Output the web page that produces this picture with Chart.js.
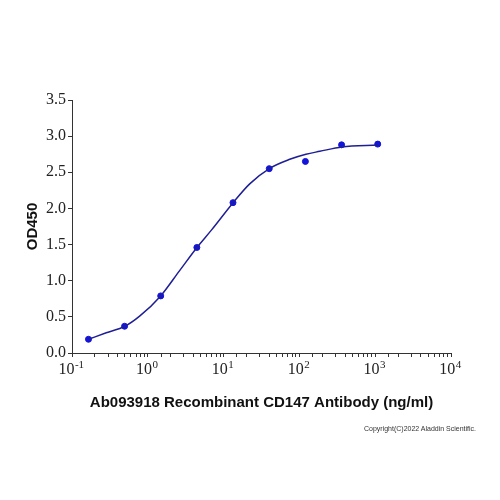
<!DOCTYPE html>
<html>
<head>
<meta charset="utf-8">
<script src="https://cdn.jsdelivr.net/npm/chart.js@4/dist/chart.umd.min.js"></script>
<style>
  body { margin: 0; background: #fff; }
  #wrap { position: relative; width: 500px; height: 500px; }
  #note { position: absolute; left: 364px; top: 425px; font: 7px "Liberation Sans", Arial, sans-serif; color: #333; white-space: nowrap; }
</style>
</head>
<body>
<div id="wrap">
  <canvas id="myChart" width="500" height="500"></canvas>
  <div id="note">Copyright(C)2022 Aladdin Scientific.</div>
</div>
<script>
// measured points (3-fold dilutions, ng/ml)
var conc = [0.165, 0.494, 1.48, 4.44, 13.3, 40, 120, 360, 1080];
var od = [0.19, 0.37, 0.79, 1.46, 2.08, 2.55, 2.65, 2.88, 2.89];

// fitted curve
var curveX = [0.165, 0.283, 0.498, 0.78, 1.48, 2.63, 4.45, 6.9, 13.6, 22.1, 40.6, 74.6, 122, 186, 363, 1087];
var curveY = [0.19, 0.28, 0.37, 0.51, 0.79, 1.14, 1.46, 1.70, 2.09, 2.34, 2.555, 2.68, 2.75, 2.79, 2.85, 2.877];

// x tick labels, powers of ten
var exps = [-1, 0, 1, 2, 3, 4];

var serif = '"Liberation Serif", "Times New Roman", serif';

// draws 10 with a raised exponent under each decade tick
var powerLabels = {
  id: 'powerLabels',
  afterDraw: function (chart) {
    var sx = chart.scales.x;
    var c = chart.ctx;
    c.save();
    c.fillStyle = '#222';
    c.textBaseline = 'alphabetic';
    c.textAlign = 'left';
    exps.forEach(function (e) {
      var px = sx.getPixelForValue(Math.pow(10, e));
      var base = '10', sup = e < 0 ? '-' + (-e) : String(e);
      c.font = '16px ' + serif;
      var w1 = c.measureText(base).width;
      c.font = '11px ' + serif;
      var w2 = c.measureText(sup).width;
      var x0 = px - (w1 + w2) / 2 - 1;
      c.font = '16px ' + serif;
      c.fillText(base, x0, sx.top + 21);
      c.font = '11px ' + serif;
      c.fillText(sup, x0 + w1 + 0.5, sx.top + 15);
    });
    c.restore();
  }
};

var ctx = document.getElementById("myChart");
var myChart = new Chart(ctx, {
  type: 'scatter',
  data: {
    datasets: [
      {
        data: curveX.map(function (x, i) { return {x: x, y: curveY[i]}; }),
        showLine: true,
        borderColor: "#1f1f95",
        borderWidth: 1.5,
        pointRadius: 0,
        cubicInterpolationMode: 'monotone',
        fill: false
      },
      {
        data: conc.map(function (x, i) { return {x: x, y: od[i]}; }),
        backgroundColor: "#1414d8",
        borderColor: "#1414d8",
        pointRadius: 3
      }
    ]
  },
  options: {
    responsive: false,
    animation: false,
    layout: { padding: { top: 100, right: 49, left: 24, bottom: 88 } },
    plugins: { legend: { display: false }, tooltip: { enabled: false } },
    scales: {
      x: {
        type: 'logarithmic',
        min: 0.1,
        max: 10000,
        afterFit: function (s) { s.height = 59; },
        border: { display: true, color: '#333', width: 1 },
        grid: { drawOnChartArea: false, tickLength: 4, color: '#333' },
        ticks: {
          autoSkip: false,
          maxRotation: 0,
          callback: function () { return ''; }
        },
        title: {
          display: true,
          text: 'Ab093918 Recombinant CD147 Antibody (ng/ml)',
          color: '#111',
          padding: 0,
          font: { family: '"Liberation Sans", Arial, sans-serif', size: 15, weight: 'bold', lineHeight: 1.2 }
        }
      },
      y: {
        min: 0,
        max: 3.5,
        afterFit: function (s) { s.width = 48; },
        border: { display: true, color: '#333', width: 1 },
        grid: { drawOnChartArea: false, tickLength: 4, color: '#333' },
        ticks: {
          stepSize: 0.5,
          padding: 2,
          color: '#222',
          font: { family: serif, size: 16 },
          callback: function (v) { return v.toFixed(1); }
        },
        title: {
          display: true,
          text: 'OD450',
          color: '#111',
          padding: 0,
          font: { family: '"Liberation Sans", Arial, sans-serif', size: 15, weight: 'bold', lineHeight: 1.2 }
        }
      }
    }
  },
  plugins: [powerLabels]
});
</script>
</body>
</html>
